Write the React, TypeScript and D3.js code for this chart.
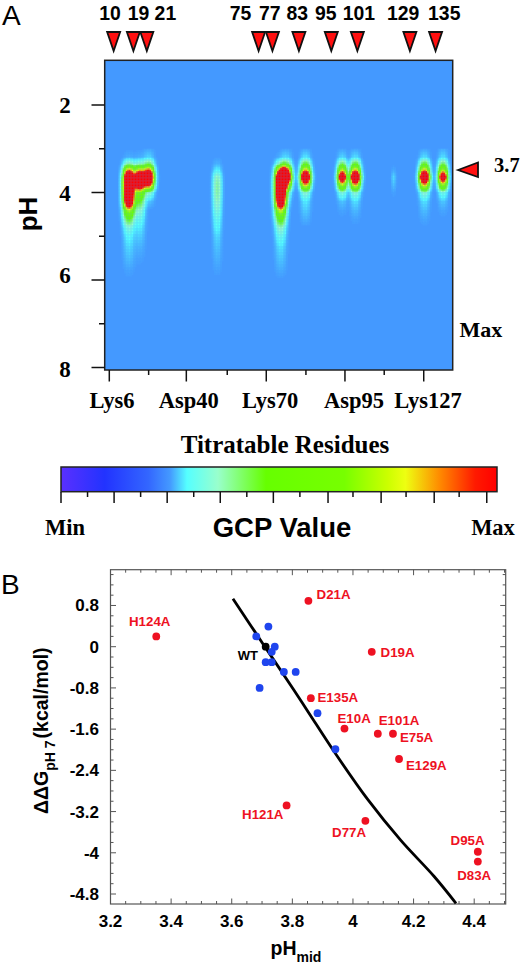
import React from "react";
import * as d3 from "d3";

const SANS = "'Liberation Sans', Arial, sans-serif";
const SERIF = "'Liberation Serif', 'Times New Roman', serif";

// ---------- Panel A data ----------
const mutatedResidues = ["10", "19", "21", "75", "77", "83", "95", "101", "129", "135"];
const mutatedLabelPos = [0.1, 3.7, 7.1, 16.6, 20.3, 23.8, 27.4, 31.6, 37.2, 42.4];
const mutatedArrowPos = [0.55, 3.05, 4.75, 18.9, 20.65, 24.0, 28.1, 31.4, 38.05, 41.3];
const residueTicks = ["Lys6", "Asp40", "Lys70", "Asp95", "Lys127"];
const residueTickPos = [0, 9.75, 19.87, 29.83, 39.8];
const residueLabelPos = [0.35, 10.05, 20.35, 30.97, 40.35];
const residueMinorPos = [4.98, 14.93, 24.89, 34.8];
const phTicks = [2, 4, 6, 8];
const phMinor = [3, 5, 7];

const profilePH = [3.0, 3.2, 3.35, 3.5, 3.65, 3.8, 4.0, 4.2, 4.4, 4.6, 4.8, 5.0, 5.25, 5.5, 5.75, 6.0];
const peakPositions = [2.5, 3.85, 5.0, 13.67, 21.7, 22.4, 24.85, 29.5, 31.15, 36.0, 39.9, 42.25];
const peakWidths = [0.63, 0.6, 0.6, 0.5, 0.62, 0.6, 0.57, 0.53, 0.57, 0.26, 0.57, 0.53];
const peak6 = [0, 0.01, 0.15, 0.75, 1.5, 1.6, 1.5, 1.3, 0.55, 0.25, 0.1, 0.05, 0.03, 0.018, 0.006, 0];
const peak19a = [0, 0.01, 0.12, 0.65, 1.35, 1.25, 0.42, 0.24, 0.12, 0.07, 0.04, 0.025, 0.012, 0.004, 0, 0];
const peak19b = [0.005, 0.03, 0.2, 0.8, 1.5, 0.95, 0.12, 0.02, 0, 0, 0, 0, 0, 0, 0, 0];
const peak40 = [0, 0.002, 0.012, 0.05, 0.13, 0.15, 0.15, 0.13, 0.1, 0.07, 0.05, 0.03, 0.02, 0.012, 0.005, 0];
const peak75a = [0, 0.008, 0.12, 0.75, 1.5, 1.65, 1.55, 1.3, 0.6, 0.3, 0.13, 0.07, 0.035, 0.022, 0.01, 0];
const peak75b = [0.004, 0.03, 0.2, 0.85, 1.5, 0.7, 0.1, 0.02, 0, 0, 0, 0, 0, 0, 0, 0];
const peak83 = [0.005, 0.04, 0.25, 0.7, 1.6, 0.75, 0.12, 0.04, 0.025, 0.012, 0, 0, 0, 0, 0, 0];
const peak95 = [0.003, 0.03, 0.2, 0.6, 1.25, 0.6, 0.1, 0.02, 0.006, 0, 0, 0, 0, 0, 0, 0];
const peak101 = [0.004, 0.035, 0.25, 0.7, 1.6, 0.75, 0.12, 0.035, 0.016, 0.005, 0, 0, 0, 0, 0, 0];
const peak115 = [0, 0, 0, 0.008, 0.03, 0.02, 0.004, 0, 0, 0, 0, 0, 0, 0, 0, 0];
const peak127 = [0.004, 0.035, 0.25, 0.7, 1.6, 0.75, 0.12, 0.035, 0.018, 0.007, 0, 0, 0, 0, 0, 0];
const peak135 = [0.008, 0.035, 0.2, 0.55, 1.15, 0.55, 0.08, 0.022, 0.007, 0, 0, 0, 0, 0, 0, 0];
const peakProfiles = [peak6, peak19a, peak19b, peak40, peak75a, peak75b, peak83, peak95, peak101, peak115, peak127, peak135];
const crossDist = [0, 0.5, 0.75, 1, 1.25, 1.5, 1.75, 2, 2.3];
const crossValue = [1, 0.85, 0.65, 0.42, 0.22, 0.09, 0.03, 0.01, 0];

// colour scale, shown as the legend
const colorFrac = [0, 0.1, 0.2, 0.25, 0.289, 0.36, 0.47, 0.65, 0.75, 0.79, 0.87, 0.95, 1];
const colorHex = ["#5a30ff", "#2233ff", "#3366ff", "#4499ff", "#55ffff", "#99ffcc", "#66ff00", "#77ff00", "#ccff00", "#eeff11", "#ff8800", "#ff1a00", "#ff0000"];
const legendMajor = [0, 1, 2, 3, 4, 5.03, 6.03, 7.03, 8.02];
const legendMinor = [0.5, 1.5, 2.5, 3.5, 4.5, 5.5, 6.5, 7.5];

// ---------- Panel B data ----------
const redNames = ["D21A", "H124A", "D19A", "E135A", "E10A", "E101A", "E75A", "E129A", "H121A", "D77A", "D95A", "D83A"];
const redPH = [3.853, 3.351, 4.062, 3.861, 3.972, 4.082, 4.132, 4.152, 3.781, 4.041, 4.412, 4.412];
const redDDG = [0.89, 0.2, -0.1, -1.0, -1.59, -1.69, -1.69, -2.18, -3.08, -3.38, -3.98, -4.17];
const redLabelPH = [3.88, 3.261, 4.091, 3.883, 3.949, 4.085, 4.155, 4.175, 3.634, 3.931, 4.322, 4.344];
const redLabelDDG = [0.925, 0.405, -0.193, -1.075, -1.48, -1.515, -1.85, -2.385, -3.335, -3.69, -3.84, -4.52];
const bluePH = [3.721, 3.681, 3.742, 3.732, 3.712, 3.732, 3.772, 3.811, 3.692, 3.883, 3.942];
const blueDDG = [0.39, 0.2, 0, -0.1, -0.3, -0.3, -0.49, -0.49, -0.8, -1.29, -1.99];
const wtPH = [3.712];
const wtDDG = [0];
const curvePH = [3.604, 3.706, 3.805, 3.855, 3.936, 4.048, 4.158, 4.268, 4.34];
const curveDDG = [0.93, 0.03, -0.84, -1.29, -2.02, -2.96, -3.76, -4.46, -4.98];
const xTicksB = [3.2, 3.4, 3.6, 3.8, 4, 4.2, 4.4];
const yTicksB = [0.8, 0, -0.8, -1.6, -2.4, -3.2, -4, -4.8];

// ---------- scales ----------
const xA = d3.scaleLinear().domain([0, 10]).range([109.3, 188.3]);
const yA = d3.scaleLinear().domain([2, 8]).range([105, 367.5]);
const colorScale = d3.scaleLinear<string>().domain(colorFrac).range(colorHex).clamp(true);
const intensityToFrac = d3.scaleLinear().domain([0, 0.8]).range([0.25, 1]).clamp(true);
const crossScale = d3.scaleLinear().domain(crossDist).range(crossValue).clamp(true);
const profileScales = peakProfiles.map((p) => d3.scaleLinear().domain(profilePH).range(p).clamp(true));
const legendX = d3.scaleLinear().domain([0, 1]).range([61, 497]);
const legendTickX = d3.scaleLinear().domain([0, 8]).range([61, 485.7]);
const xB = d3.scaleLinear().domain([3.2, 4.5]).range([110.5, 504.5]);
const yB = d3.scaleLinear().domain([0, -4.8]).range([646.7, 894]);

const boxA = { l: 104.7, r: 452.7, t: 60.3, b: 370 };
const boxB = { l: xB(3.2), r: 505.7, t: 569.7, b: 904 };

function heatCells() {
  const step = 1.5;
  const cells: { x: number; y: number; c: string }[] = [];
  for (let px = boxA.l; px < boxA.r; px += step) {
    const u = xA.invert(px + step / 2);
    for (let py = yA(3.0); py < yA(6.0); py += step) {
      const ph = yA.invert(py + step / 2);
      let v = 0;
      peakPositions.forEach((pos, i) => {
        const d = Math.abs(u - pos) / peakWidths[i];
        if (d < 2.3) v += profileScales[i](ph) * crossScale(d);
      });
      if (v > 0.002) cells.push({ x: px, y: py, c: colorScale(intensityToFrac(v)) });
    }
  }
  return cells;
}

const curveLine = d3
  .line<number>()
  .x((d) => xB(d))
  .y((_, i) => yB(curveDDG[i]))
  .curve(d3.curveCatmullRom);

function tri(cx: number) {
  return `M${cx - 6.5},32 L${cx + 6.5},32 L${cx},51 Z`;
}

export default function App() {
  const cells = heatCells();
  const xMinorB = d3.range(3.2, 4.5001, 0.05);
  const yMinorVals = d3.range(-24, 8).map((k) => k * 0.2);
  return (
    <svg
      width={524}
      height={965}
      style={{ position: "absolute", left: 0, top: 0, background: "#fff" }}
    >
      <defs>
        <linearGradient id="gcp" x1="0" x2="1" y1="0" y2="0">
          {colorFrac.map((f, i) => (
            <stop key={i} offset={f} stopColor={colorHex[i]} />
          ))}
        </linearGradient>
        <clipPath id="heatClip">
          <rect x={boxA.l} y={boxA.t} width={boxA.r - boxA.l} height={boxA.b - boxA.t} />
        </clipPath>
        <filter id="soft" x="-5%" y="-5%" width="110%" height="110%">
          <feGaussianBlur stdDeviation="0.5" />
        </filter>
      </defs>

      {/* Panel A */}
      <text x={2} y={25} fontFamily={SANS} fontSize={28}>A</text>
      {mutatedResidues.map((r, i) => (
        <text key={r} x={xA(mutatedLabelPos[i])} y={19.5} textAnchor="middle" fontFamily={SANS} fontWeight="bold" fontSize={19.4}>
          {r}
        </text>
      ))}
      {mutatedArrowPos.map((p, i) => (
        <path key={i} d={tri(xA(p))} fill="#ff1010" stroke="#111" strokeWidth={1.8} strokeLinejoin="miter" />
      ))}
      <rect x={boxA.l} y={boxA.t} width={boxA.r - boxA.l} height={boxA.b - boxA.t} fill="#4499ff" />
      <g clipPath="url(#heatClip)">
        <g filter="url(#soft)">
          {cells.map((c, i) => (
            <rect key={i} x={c.x} y={c.y} width={1.6} height={1.6} fill={c.c} />
          ))}
        </g>
      </g>
      <rect x={boxA.l} y={boxA.t} width={boxA.r - boxA.l} height={boxA.b - boxA.t} fill="none" stroke="#222" strokeWidth={1.5} />
      {phTicks.map((t) => (
        <g key={t}>
          <line x1={91.5} x2={boxA.l} y1={yA(t)} y2={yA(t)} stroke="#111" strokeWidth={1.5} />
          <text x={65} y={yA(t) + (t === 6 ? 3 : t === 8 ? 9 : 8)} textAnchor="middle" fontFamily={SERIF} fontWeight="bold" fontSize={23}>
            {t}
          </text>
        </g>
      ))}
      {phMinor.map((t) => (
        <line key={t} x1={99} x2={boxA.l} y1={yA(t)} y2={yA(t)} stroke="#111" strokeWidth={1.5} />
      ))}
      <text transform="translate(37,214) rotate(-90)" textAnchor="middle" fontFamily={SANS} fontWeight="bold" fontSize={26}>pH</text>
      {residueTickPos.map((p) => (
        <line key={p} x1={xA(p)} x2={xA(p)} y1={boxA.b} y2={381.5} stroke="#111" strokeWidth={1.5} />
      ))}
      {residueMinorPos.map((p) => (
        <line key={p} x1={xA(p)} x2={xA(p)} y1={boxA.b} y2={375} stroke="#111" strokeWidth={1.5} />
      ))}
      {residueTicks.map((t, i) => (
        <text key={t} x={xA(residueLabelPos[i])} y={408} textAnchor="middle" fontFamily={SERIF} fontWeight="bold" fontSize={22.5}>
          {t}
        </text>
      ))}
      <path d="M458,170 L478,162.5 L478,177 Z" fill="#ff1010" stroke="#111" strokeWidth={1.8} />
      <text x={494} y={172} fontFamily={SERIF} fontWeight="bold" fontSize={20.5}>3.7</text>
      <text x={459.5} y={337} fontFamily={SERIF} fontWeight="bold" fontSize={22}>Max</text>
      <text x={285} y={453} textAnchor="middle" fontFamily={SERIF} fontWeight="bold" fontSize={25}>Titratable Residues</text>

      {/* Legend */}
      <rect x={legendX(0)} y={467} width={legendX(1) - legendX(0)} height={24.7} fill="url(#gcp)" stroke="#222" strokeWidth={1.5} />
      {legendMajor.map((t) => (
        <line key={t} x1={legendTickX(t)} x2={legendTickX(t)} y1={492} y2={503} stroke="#111" strokeWidth={1.5} />
      ))}
      {legendMinor.map((t) => (
        <line key={t} x1={legendTickX(t)} x2={legendTickX(t)} y1={492} y2={497} stroke="#111" strokeWidth={1.5} />
      ))}
      <text x={65} y={535} textAnchor="middle" fontFamily={SERIF} fontWeight="bold" fontSize={22.5}>Min</text>
      <text x={282} y={537} textAnchor="middle" fontFamily={SANS} fontWeight="bold" fontSize={27.5}>GCP Value</text>
      <text x={493} y={535} textAnchor="middle" fontFamily={SERIF} fontWeight="bold" fontSize={22.5}>Max</text>

      {/* Panel B */}
      <text x={1} y={594} fontFamily={SANS} fontSize={28}>B</text>
      <rect x={boxB.l} y={boxB.t} width={boxB.r - boxB.l} height={boxB.b - boxB.t} fill="none" stroke="#555" strokeWidth={1.2} />
      {xMinorB.map((t, i) => {
        const major = i % 4 === 0;
        const l = major ? 5.5 : 3;
        return (
          <g key={i} stroke="#555" strokeWidth={1}>
            <line x1={xB(t)} x2={xB(t)} y1={boxB.b} y2={boxB.b - l} />
            <line x1={xB(t)} x2={xB(t)} y1={boxB.t} y2={boxB.t + l} />
          </g>
        );
      })}
      {yMinorVals.map((t, i) => {
        const major = (i + 24) % 4 === 0;
        const l = major ? 5.5 : 3;
        return (
          <g key={i} stroke="#555" strokeWidth={1}>
            <line x1={boxB.l} x2={boxB.l + l} y1={yB(t)} y2={yB(t)} />
            <line x1={boxB.r} x2={boxB.r - l} y1={yB(t)} y2={yB(t)} />
          </g>
        );
      })}
      {xTicksB.map((t) => (
        <text key={t} x={xB(t)} y={927} textAnchor="middle" fontFamily={SANS} fontWeight="bold" fontSize={17}>
          {t}
        </text>
      ))}
      {yTicksB.map((t) => (
        <text key={t} x={99} y={yB(t) + 6} textAnchor="end" fontFamily={SANS} fontWeight="bold" fontSize={17}>
          {t}
        </text>
      ))}
      <text x={270.5} y={955} fontFamily={SANS} fontWeight="bold" fontSize={19.5}>
        pH<tspan dy={6.5} fontSize={14}>mid</tspan>
      </text>
      <text transform="translate(48,814) rotate(-90)" fontFamily={SANS} fontWeight="bold" fontSize={19.5}>
        ΔΔG<tspan dy={6.5} fontSize={14}>pH 7</tspan>
        <tspan dy={-6.5} dx={2}>(kcal/mol)</tspan>
      </text>

      <path d={curveLine(curvePH) ?? ""} fill="none" stroke="#000" strokeWidth={2.8} />
      {bluePH.map((p, i) => (
        <circle key={i} cx={xB(p)} cy={yB(blueDDG[i])} r={3.9} fill="#1f45ee" />
      ))}
      {wtPH.map((p, i) => (
        <circle key={i} cx={xB(p)} cy={yB(wtDDG[i])} r={3.9} fill="#000" />
      ))}
      <text x={237.7} y={660} fontFamily={SANS} fontWeight="bold" fontSize={13}>WT</text>
      {redPH.map((p, i) => (
        <circle key={i} cx={xB(p)} cy={yB(redDDG[i])} r={3.9} fill="#ee1122" />
      ))}
      {redNames.map((n, i) => (
        <text key={n} x={xB(redLabelPH[i])} y={yB(redLabelDDG[i])} fontFamily={SANS} fontWeight="bold" fontSize={13.3} fill="#ee1122">
          {n}
        </text>
      ))}
    </svg>
  );
}
